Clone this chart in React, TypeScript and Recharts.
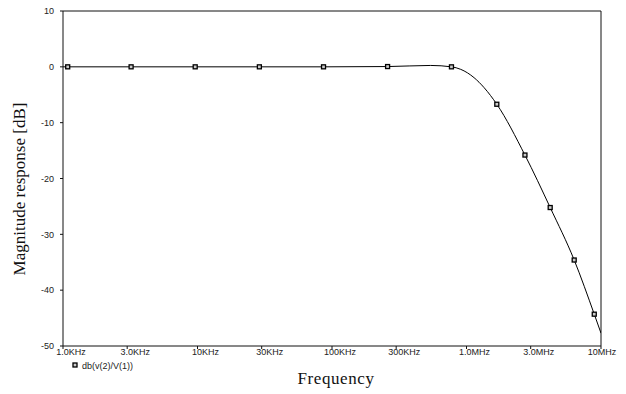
import React from "react";
import { LineChart, Line, XAxis, YAxis, ReferenceLine, Label } from "recharts";

const frequencies = [1000, 1084, 3209, 9613, 28840, 86500, 259000, 542000, 773000, 906000, 1138000, 1352000, 1680000, 2720000, 4190000, 6320000, 8910000, 10000000];
const magnitudeDb = [0, 0, 0, 0, 0, 0, 0.05, 0.25, 0, -0.45, -1.94, -3.73, -6.7, -15.8, -25.2, -34.6, -44.3, -47.7];
const hasMarker = [false, true, true, true, true, true, true, false, true, false, false, false, true, true, true, true, true, false];

const xTicks = [1e3, 3e3, 1e4, 3e4, 1e5, 3e5, 1e6, 3e6, 1e7];
const xTickLabels = ["1.0KHz", "3.0KHz", "10KHz", "30KHz", "100KHz", "300KHz", "1.0MHz", "3.0MHz", "10MHz"];
const yTicks = [-50, -40, -30, -20, -10, 0, 10];

const seriesName = "db(v(2)/V(1))";

const data = frequencies.map((f, i) => ({ f, db: magnitudeDb[i], m: hasMarker[i] }));

const sans = "'Liberation Sans', Arial, sans-serif";
const serif = "'Liberation Serif', 'Times New Roman', serif";

const XTick = (props: any) => {
  const { x, y, payload, index } = props;
  const i = xTicks.indexOf(payload.value);
  const shift = i === xTicks.length - 1 ? 1 : 8;
  return (
    <text key={index} x={x + shift} y={y} dy="0.71em" textAnchor="middle" fontSize={9} fontFamily={sans} fill="#222">
      {xTickLabels[i]}
    </text>
  );
};

const renderDot = (p: any) => {
  const { cx, cy, payload, index } = p;
  if (!payload.m) return <g key={index} />;
  return <rect key={index} x={cx - 2} y={cy - 2} width={4} height={4} fill="#ccc" stroke="#000" strokeWidth={1.3} />;
};

export default function App() {
  return (
    <div style={{ position: "absolute", left: 0, top: 0, background: "#fff" }}>
      <LineChart width={626} height={394} data={data} margin={{ top: 11, right: 25, bottom: 0, left: 0 }}>
        <XAxis
          dataKey="f"
          type="number"
          scale="log"
          domain={[1000, 10000000]}
          ticks={xTicks}
          allowDataOverflow
          height={48}
          tickSize={3}
          tickMargin={0}
          tick={<XTick />}
          stroke="#111"
          interval={0}
        >
          <Label
            content={() => (
              <g>
                <text x={336} y={384} textAnchor="middle" fontSize={17} fontFamily={serif} fill="#111" letterSpacing={0.6}>
                  Frequency
                </text>
                <rect x={73} y={363} width={4} height={4} fill="#ccc" stroke="#000" strokeWidth={1.3} />
                <text x={82} y={368.5} fontSize={9} fontFamily={sans} fill="#222">
                  {seriesName}
                </text>
              </g>
            )}
          />
        </XAxis>
        <YAxis
          type="number"
          domain={[-50, 10]}
          ticks={yTicks}
          width={63}
          tickSize={3}
          tickMargin={6}
          tick={{ fontSize: 9, fontFamily: sans, fill: "#222" }}
          stroke="#111"
          interval={0}
        >
          <Label
            content={() => (
              <text
                x={25}
                y={189}
                textAnchor="middle"
                fontSize={17}
                fontFamily={serif}
                fill="#111"
                transform="rotate(-90 25 189)"
              >
                Magnitude response [dB]
              </text>
            )}
          />
        </YAxis>
        <ReferenceLine y={10} stroke="#111" />
        <ReferenceLine x={10000000} stroke="#111" />
        <Line
          type="monotone"
          dataKey="db"
          stroke="#000"
          strokeWidth={1}
          dot={renderDot}
          activeDot={false}
          isAnimationActive={false}
        />
      </LineChart>
    </div>
  );
}
